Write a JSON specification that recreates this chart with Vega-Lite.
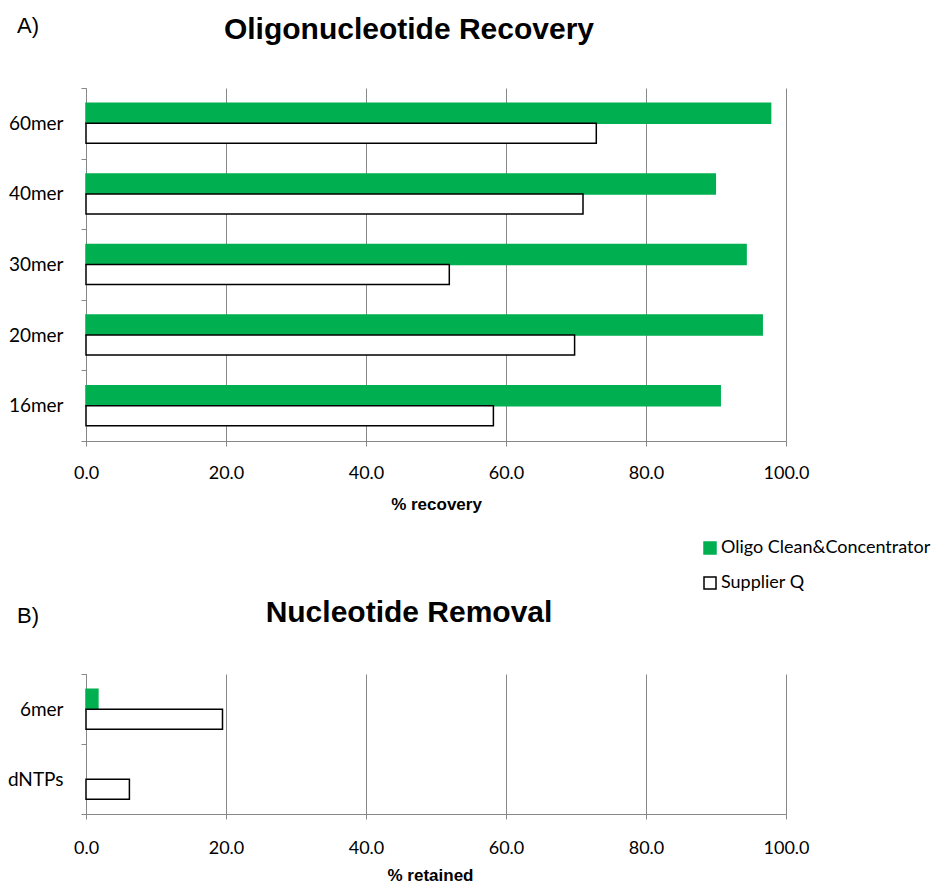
{
  "$schema": "https://vega.github.io/schema/vega-lite/v6.json",
  "padding": {"left": 7, "top": 14, "right": 0, "bottom": 8},
  "bounds": "flush",
  "spacing": 233,
  "config": {"view": {"stroke": null}, "font": "Lato", "background": "white"},
  "datasets": {
    "recovery": [
      {"oligo": "60mer", "method": "Oligo Clean&Concentrator", "value": 97.8},
      {"oligo": "60mer", "method": "Supplier Q", "value": 72.9},
      {"oligo": "40mer", "method": "Oligo Clean&Concentrator", "value": 89.9},
      {"oligo": "40mer", "method": "Supplier Q", "value": 71.0},
      {"oligo": "30mer", "method": "Oligo Clean&Concentrator", "value": 94.3},
      {"oligo": "30mer", "method": "Supplier Q", "value": 51.9},
      {"oligo": "20mer", "method": "Oligo Clean&Concentrator", "value": 96.6},
      {"oligo": "20mer", "method": "Supplier Q", "value": 69.8},
      {"oligo": "16mer", "method": "Oligo Clean&Concentrator", "value": 90.6},
      {"oligo": "16mer", "method": "Supplier Q", "value": 58.2}
    ],
    "removal": [
      {"oligo": "6mer", "method": "Oligo Clean&Concentrator", "value": 1.7},
      {"oligo": "6mer", "method": "Supplier Q", "value": 19.5},
      {"oligo": "dNTPs", "method": "Supplier Q", "value": 6.2}
    ]
  },
  "resolve": {"legend": {"fill": "independent", "stroke": "independent"}},
  "vconcat": [
    {
      "width": 700,
      "height": 353,
      "title": {"text": "Oligonucleotide Recovery", "font": "Liberation Sans", "fontSize": 30, "fontWeight": "bold", "color": "black", "anchor": "middle", "frame": "group", "dx": -27, "dy": 30, "baseline": "alphabetic", "offset": -24},
      "data": {"name": "recovery"},
      "mark": {"type": "bar", "strokeWidth": 1.5},
      "encoding": {
        "y": {
          "field": "oligo", "type": "nominal",
          "sort": ["60mer", "40mer", "30mer", "20mer", "16mer"],
          "scale": {"paddingInner": 0, "paddingOuter": 0},
          "axis": {"title": "A)", "titleAngle": 0, "titleAlign": "left", "titleBaseline": "alphabetic", "titleX": -69.5, "titleY": -55.5, "titleFont": "Liberation Sans", "titleFontSize": 22, "titleFontWeight": "normal", "titleColor": "black", "tickBand": "extent", "ticks": true, "tickSize": 5, "tickColor": "#888888", "domainColor": "#888888", "labelFont": "Lato", "labelFontSize": 19, "labelColor": "black", "labelPadding": 18, "grid": false, "labelBaseline": "middle"}
        },
        "x": {
          "field": "value", "type": "quantitative",
          "scale": {"domain": [0, 100], "nice": false},
          "axis": {"title": "% recovery", "values": [0, 20, 40, 60, 80, 100], "format": ".1f", "grid": true, "gridColor": "#888888", "gridWidth": 1, "gridOpacity": 1, "tickSize": 5, "tickColor": "#888888", "domainColor": "#888888", "labelFont": "Lato", "labelFontSize": 18, "labelColor": "black", "labelBaseline": "alphabetic", "labelPadding": 32, "labelFlush": false, "labelAngle": 0, "titleFont": "Liberation Sans", "titleFontSize": 17, "titleFontWeight": "bold", "titleColor": "black", "titleBaseline": "alphabetic", "titleY": 68, "titleX": 350}
        },
        "yOffset": {"field": "method", "type": "nominal", "sort": ["Oligo Clean&Concentrator", "Supplier Q"], "scale": {"paddingInner": 0, "paddingOuter": 0.765}},
        "fill": {
          "field": "method", "type": "nominal",
          "scale": {"domain": ["Oligo Clean&Concentrator", "Supplier Q"], "range": ["#00B050", "#ffffff"]},
          "legend": {"title": null, "orient": "none", "legendX": 615, "legendY": 451, "symbolType": "square", "symbolSize": 144, "symbolStrokeWidth": 1.5, "labelFont": "Lato", "labelFontSize": 18, "labelColor": "black", "labelOffset": 2, "labelLimit": 400, "rowPadding": 17, "padding": 0}
        },
        "stroke": {
          "field": "method", "type": "nominal",
          "scale": {"domain": ["Oligo Clean&Concentrator", "Supplier Q"], "range": ["#00B050", "#000000"]},
          "legend": {"title": null, "orient": "none", "legendX": 615, "legendY": 451, "symbolType": "square", "symbolSize": 144, "symbolStrokeWidth": 1.5, "labelFont": "Lato", "labelFontSize": 18, "labelColor": "black", "labelOffset": 2, "labelLimit": 400, "rowPadding": 17, "padding": 0}
        }
      }
    },
    {
      "width": 700,
      "height": 140,
      "title": {"text": "Nucleotide Removal", "font": "Liberation Sans", "fontSize": 30, "fontWeight": "bold", "color": "black", "anchor": "middle", "frame": "group", "dx": -27, "dy": 30, "baseline": "alphabetic", "offset": -18.4},
      "data": {"name": "removal"},
      "mark": {"type": "bar", "strokeWidth": 1.5},
      "encoding": {
        "y": {
          "field": "oligo", "type": "nominal",
          "sort": ["6mer", "dNTPs"],
          "scale": {"paddingInner": 0, "paddingOuter": 0},
          "axis": {"title": "B)", "titleAngle": 0, "titleAlign": "left", "titleBaseline": "alphabetic", "titleX": -69.5, "titleY": -52, "titleFont": "Liberation Sans", "titleFontSize": 22, "titleFontWeight": "normal", "titleColor": "black", "tickBand": "extent", "ticks": true, "tickSize": 5, "tickColor": "#888888", "domainColor": "#888888", "labelFont": "Lato", "labelFontSize": 19, "labelColor": "black", "labelPadding": 18, "grid": false, "labelBaseline": "middle"}
        },
        "x": {
          "field": "value", "type": "quantitative",
          "scale": {"domain": [0, 100], "nice": false},
          "axis": {"title": "% retained", "values": [0, 20, 40, 60, 80, 100], "format": ".1f", "grid": true, "gridColor": "#888888", "gridWidth": 1, "gridOpacity": 1, "tickSize": 5, "tickColor": "#888888", "domainColor": "#888888", "labelFont": "Lato", "labelFontSize": 18, "labelColor": "black", "labelBaseline": "alphabetic", "labelPadding": 34, "labelFlush": false, "labelAngle": 0, "titleFont": "Liberation Sans", "titleFontSize": 17, "titleFontWeight": "bold", "titleColor": "black", "titleBaseline": "alphabetic", "titleY": 66, "titleX": 344}
        },
        "yOffset": {"field": "method", "type": "nominal", "sort": ["Oligo Clean&Concentrator", "Supplier Q"], "scale": {"domain": ["Oligo Clean&Concentrator", "Supplier Q"], "paddingInner": 0, "paddingOuter": 0.75}},
        "fill": {
          "field": "method", "type": "nominal",
          "scale": {"domain": ["Oligo Clean&Concentrator", "Supplier Q"], "range": ["#00B050", "#ffffff"]},
          "legend": null
        },
        "stroke": {
          "field": "method", "type": "nominal",
          "scale": {"domain": ["Oligo Clean&Concentrator", "Supplier Q"], "range": ["#00B050", "#000000"]},
          "legend": null
        }
      }
    }
  ]
}
